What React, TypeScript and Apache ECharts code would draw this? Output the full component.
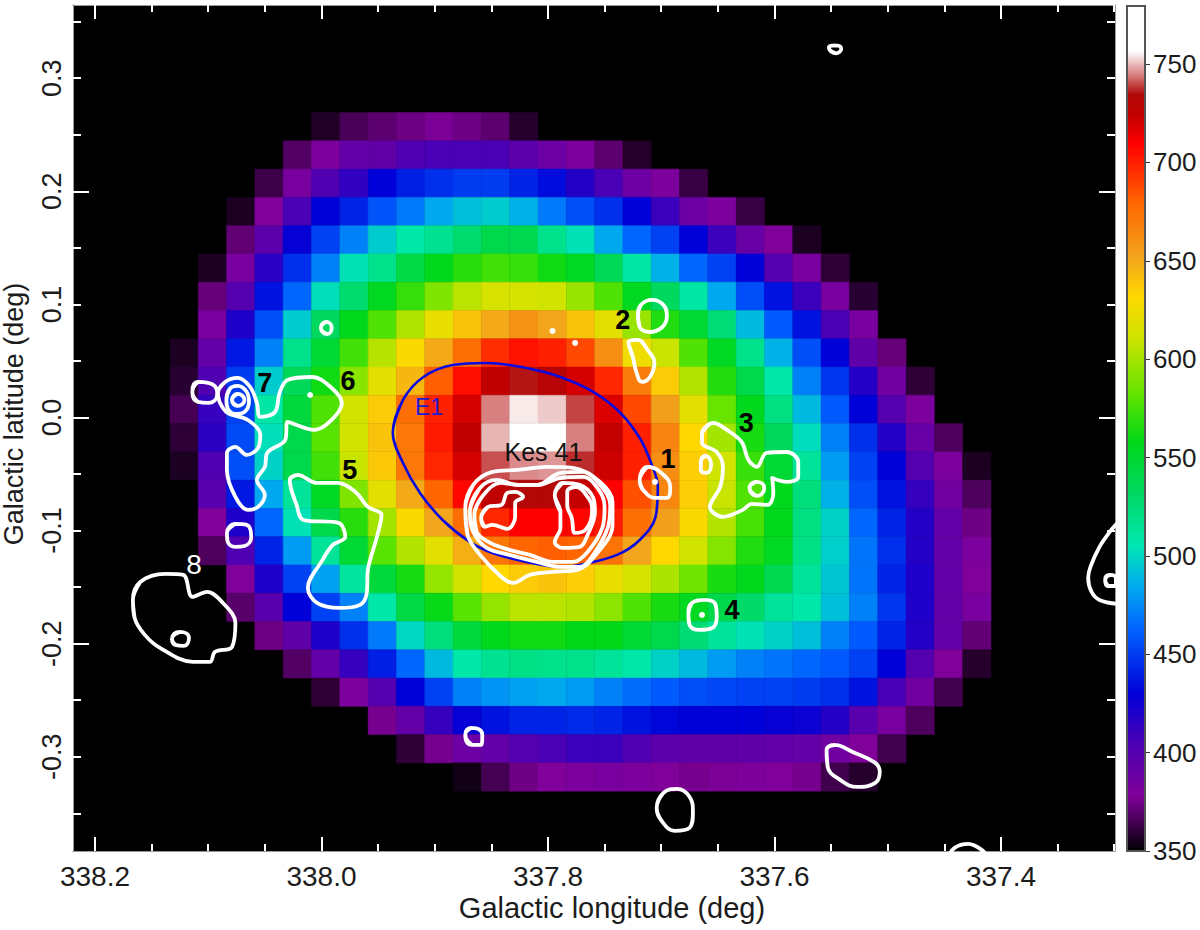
import React, { useEffect, useRef } from "react";
import * as echarts from "echarts";

type Pt = [number, number];

// ---- map cells (value per pixel of the map; each row starts at its first column) ----
const firstLongitude = 338.1213;
const firstLatitude = 0.2571;
const cellStep = 0.025;
const rowFirstColumns = [5, 4, 3, 2, 2, 1, 1, 1, 0, 0, 0, 0, 0, 1, 1, 1, 2, 2, 3, 4, 5, 7, 8, 10];
const row00 = [357, 366, 370, 374, 377, 374, 370, 358];
const row01 = [368, 380, 392, 393, 402, 405, 405, 405, 396, 388, 380, 370, 358];
const row02 = [363, 382, 402, 413, 430, 440, 446, 450, 450, 442, 434, 418, 405, 388, 380, 362];
const row03 = [356, 378, 405, 430, 442, 458, 470, 484, 492, 496, 487, 470, 456, 446, 430, 410, 388, 380, 362];
const row04 = [371, 396, 428, 452, 472, 496, 508, 516, 528, 540, 538, 518, 504, 484, 464, 452, 430, 410, 390, 378, 356];
const row05 = [356, 382, 416, 446, 472, 504, 518, 542, 556, 568, 574, 571, 562, 554, 536, 510, 487, 464, 452, 430, 400, 382, 360];
const row06 = [372, 400, 436, 464, 503, 528, 555, 571, 590, 606, 615, 614, 612, 597, 578, 555, 533, 510, 484, 456, 436, 410, 382, 359];
const row07 = [382, 420, 456, 496, 533, 556, 578, 603, 622, 640, 650, 660, 652, 640, 620, 597, 566, 548, 525, 490, 460, 436, 405, 382];
const row08 = [356, 392, 438, 472, 518, 548, 574, 605, 630, 650, 676, 696, 704, 700, 688, 662, 625, 610, 578, 554, 518, 487, 456, 430, 394, 372];
const row09 = [359, 402, 450, 496, 535, 562, 593, 620, 645, 682, 706, 725, 736, 730, 720, 698, 670, 637, 604, 567, 540, 508, 472, 448, 418, 385, 360];
const row10 = [365, 412, 452, 510, 545, 578, 612, 637, 676, 700, 720, 745, 755, 752, 740, 718, 688, 654, 620, 584, 556, 522, 490, 460, 430, 400, 380];
const row11 = [360, 415, 455, 503, 540, 580, 613, 640, 672, 702, 725, 750, 770, 757, 745, 724, 700, 666, 632, 600, 564, 534, 502, 472, 446, 418, 390, 367];
const row12 = [356, 402, 456, 498, 540, 574, 610, 638, 672, 698, 720, 741, 746, 747, 738, 722, 700, 662, 636, 612, 572, 548, 514, 480, 452, 430, 400, 380, 356];
const row13 = [398, 438, 484, 514, 553, 590, 620, 650, 680, 708, 726, 733, 733, 724, 710, 686, 665, 636, 610, 578, 556, 524, 487, 456, 436, 412, 385, 367];
const row14 = [378, 420, 464, 504, 540, 568, 600, 630, 652, 676, 698, 710, 710, 708, 702, 676, 654, 630, 604, 576, 556, 522, 498, 464, 442, 418, 392, 374];
const row15 = [367, 403, 442, 480, 514, 548, 580, 604, 620, 648, 672, 680, 682, 680, 674, 652, 632, 612, 592, 566, 554, 520, 497, 468, 446, 418, 392, 380];
const row16 = [378, 420, 452, 482, 512, 546, 564, 596, 612, 632, 637, 640, 636, 622, 614, 602, 586, 564, 556, 538, 514, 494, 468, 442, 420, 392, 378];
const row17 = [369, 398, 430, 452, 472, 508, 542, 560, 580, 596, 606, 606, 604, 594, 578, 564, 555, 540, 530, 514, 508, 492, 472, 448, 420, 392, 382];
const row18 = [374, 394, 420, 446, 470, 500, 524, 546, 556, 562, 562, 558, 558, 548, 540, 526, 514, 504, 498, 492, 472, 460, 442, 418, 392, 371];
const row19 = [368, 392, 412, 440, 464, 490, 508, 516, 520, 518, 518, 514, 508, 498, 490, 480, 472, 468, 464, 460, 452, 430, 400, 378, 358];
const row20 = [360, 380, 400, 430, 452, 472, 478, 482, 484, 480, 472, 466, 460, 456, 454, 452, 452, 450, 446, 436, 406, 385, 364];
const row21 = [376, 392, 412, 428, 436, 442, 442, 444, 442, 436, 432, 430, 430, 430, 428, 426, 418, 398, 382, 367];
const row22 = [360, 376, 388, 392, 400, 405, 410, 410, 402, 396, 394, 394, 394, 392, 392, 386, 378, 364];
const row23 = [354, 365, 374, 378, 380, 382, 380, 378, 376, 377, 379, 378, 376, 364, 358];
const cellRows = [row00, row01, row02, row03, row04, row05, row06, row07, row08, row09, row10, row11, row12, row13, row14, row15, row16, row17, row18, row19, row20, row21, row22, row23];

// ---- colour scale ----
const colorStopValues = [350, 378, 405, 430, 462, 484, 506, 533, 558, 582, 612, 632, 653, 680, 695, 710, 725, 735, 745, 757, 780];
const colorStopColors = ["#000000", "#80009a", "#4a00b4", "#0000d8", "#0060ff", "#00a8f0", "#00e8b0", "#00d860", "#00d818", "#60e400", "#d0e400", "#ffd800", "#f2a21c", "#ff6600", "#ff3000", "#ff0000", "#c00000", "#b00808", "#d88080", "#ffffff", "#ffffff"];
const colorbarTicks = [350, 400, 450, 500, 550, 600, 650, 700, 750];

// ---- axes ----
const lonMajorTicks = [338.2, 338.0, 337.8, 337.6, 337.4];
const lonMinorTicks = [338.2, 338.15, 338.1, 338.05, 338.0, 337.95, 337.9, 337.85, 337.8, 337.75, 337.7, 337.65, 337.6, 337.55, 337.5, 337.45, 337.4, 337.35, 337.3];
const latLabels = [0.3, 0.2, 0.1, 0, -0.1, -0.2, -0.3];
const latMajorTicks = [0.2, 0, -0.2];
const latMinorTicks = [0.35, 0.3, 0.25, 0.2, 0.15, 0.1, 0.05, 0, -0.05, -0.1, -0.15, -0.2, -0.25, -0.3, -0.35];

// ---- contours (longitude, latitude in deg) ----
const contourTop: Pt[] = [[337.552, 0.327], [337.547, 0.329], [337.541, 0.326], [337.546, 0.322]];
const contour2: Pt[] = [[337.7205, 0.0906], [337.718, 0.0995], [337.708, 0.1039], [337.698, 0.0995], [337.695, 0.0898], [337.699, 0.08], [337.71, 0.0756], [337.719, 0.08]];
const contour2b: Pt[] = [[337.729, 0.0668], [337.721, 0.0686], [337.712, 0.0597], [337.706, 0.0482], [337.71, 0.0358], [337.717, 0.0314], [337.722, 0.0403], [337.725, 0.0535]];
const contourSmallA: Pt[] = [[338.0005, 0.0792], [337.996, 0.0845], [337.991, 0.0792], [337.995, 0.0738]];
const contourLoop: Pt[] = [[338.114, 0.0226], [338.109, 0.0314], [338.1, 0.0306], [338.092, 0.0217], [338.1, 0.0129], [338.109, 0.0138]];
const contour76: Pt[] = [[338.0914, 0.0217], [338.085, 0.0314], [338.074, 0.035], [338.063, 0.027], [338.057, 0.0129], [338.054, 0.0005], [338.041, 0.0049], [338.037, 0.0217], [338.03, 0.0332], [338.008, 0.0358], [337.991, 0.0261], [337.982, 0.0129], [337.991, -0.0022], [338.006, -0.011], [338.03, -0.0039], [338.032, -0.0199], [338.048, -0.0314], [338.05, -0.0437], [338.057, -0.0552], [338.05, -0.0685], [338.056, -0.0791], [338.065, -0.0817], [338.076, -0.0702], [338.0835, -0.0464], [338.0835, -0.0314], [338.076, -0.026], [338.066, -0.0331], [338.056, -0.0269], [338.054, -0.0154], [338.065, -0.0022], [338.083, 0.004], [338.09, 0.0138]];
const contour7Ring: Pt[] = [[338.084, 0.0155], [338.081, 0.0252], [338.074, 0.0279], [338.066, 0.0226], [338.064, 0.0138], [338.068, 0.0049], [338.076, 0.0031], [338.083, 0.0084]];
const contour7Inner: Pt[] = [[338.079, 0.0155], [338.074, 0.0208], [338.068, 0.0155], [338.074, 0.0102]];
const contourBelow7: Pt[] = [[338.0835, -0.1021], [338.076, -0.0941], [338.066, -0.095], [338.062, -0.1056], [338.068, -0.1136], [338.076, -0.1144], [338.083, -0.1091]];
const contour5: Pt[] = [[338.028, -0.0552], [338.021, -0.0508], [338.004, -0.0579], [337.986, -0.0579], [337.97, -0.0658], [337.959, -0.0791], [337.947, -0.0862], [337.951, -0.1056], [337.959, -0.1348], [337.96, -0.1551], [337.966, -0.1657], [337.984, -0.1684], [338.004, -0.164], [338.012, -0.1507], [337.999, -0.1259], [337.99, -0.1127], [337.979, -0.1056], [337.985, -0.0932], [338.016, -0.0906], [338.022, -0.0773]];
const contour8: Pt[] = [[338.1665, -0.1613], [338.16, -0.1454], [338.138, -0.1383], [338.122, -0.1392], [338.114, -0.1586], [338.101, -0.1542], [338.087, -0.164], [338.076, -0.1816], [338.079, -0.2029], [338.094, -0.2073], [338.0985, -0.2161], [338.1135, -0.2161], [338.1426, -0.2037], [338.156, -0.1922], [338.165, -0.1772]];
const contour8Ring: Pt[] = [[338.132, -0.1958], [338.125, -0.1896], [338.117, -0.1949], [338.122, -0.202], [338.129, -0.2011]];
const contourRingLow: Pt[] = [[337.873, -0.2806], [337.868, -0.2745], [337.858, -0.2806], [337.859, -0.2895], [337.867, -0.2895]];
const contourBlobLow: Pt[] = [[337.704, -0.3452], [337.698, -0.3319], [337.686, -0.3284], [337.675, -0.3354], [337.672, -0.3487], [337.675, -0.3629], [337.688, -0.3655], [337.699, -0.3575]];
const contourBlobRight: Pt[] = [[337.554, -0.2939], [337.547, -0.2895], [337.531, -0.2957], [337.511, -0.3054], [337.507, -0.3133], [337.511, -0.3231], [337.527, -0.3266], [337.542, -0.3204], [337.553, -0.3089]];
const contourArcBottom: Pt[] = [[337.447, -0.3894], [337.441, -0.3805], [337.429, -0.377], [337.417, -0.3823], [337.41, -0.3911]];
const contourArcRight: Pt[] = [[337.297, -0.0932], [337.304, -0.1012], [337.313, -0.1144], [337.321, -0.1321], [337.323, -0.1419], [337.32, -0.1542], [337.313, -0.1613], [337.297, -0.1648]];
const contourRingRight: Pt[] = [[337.308, -0.1436], [337.304, -0.1392], [337.2985, -0.1419], [337.2985, -0.1489], [337.3055, -0.1489]];
const contour1: Pt[] = [[337.719, -0.0552], [337.712, -0.0437], [337.701, -0.0481], [337.692, -0.0614], [337.695, -0.0711], [337.705, -0.0711], [337.716, -0.0641]];
const contour3: Pt[] = [[337.654, -0.0048], [337.664, -0.0137], [337.664, -0.0225], [337.651, -0.0305], [337.6455, -0.0437], [337.648, -0.0614], [337.657, -0.0791], [337.6455, -0.0879], [337.628, -0.0817], [337.62, -0.0764], [337.606, -0.0773], [337.601, -0.0667], [337.602, -0.0535], [337.589, -0.057], [337.579, -0.0526], [337.579, -0.0393], [337.589, -0.0305], [337.607, -0.0314], [337.6155, -0.0437], [337.623, -0.0375], [337.629, -0.0216], [337.642, -0.011]];
const contour3RingA: Pt[] = [[337.665, -0.0393], [337.661, -0.034], [337.656, -0.042], [337.6605, -0.049], [337.665, -0.0464]];
const contour3RingB: Pt[] = [[337.622, -0.0623], [337.616, -0.057], [337.609, -0.0623], [337.6155, -0.0694]];
const contour4: Pt[] = [[337.676, -0.1737], [337.673, -0.164], [337.661, -0.1613], [337.652, -0.1657], [337.651, -0.1763], [337.655, -0.1861], [337.666, -0.1878], [337.675, -0.1834]];
const kesOuter: Pt[] = [[337.873, -0.08], [337.866, -0.0596], [337.849, -0.0481], [337.827, -0.0464], [337.801, -0.0437], [337.778, -0.0446], [337.754, -0.057], [337.743, -0.0747], [337.743, -0.095], [337.76, -0.1242], [337.774, -0.1348], [337.796, -0.1365], [337.816, -0.1392], [337.831, -0.1463], [337.841, -0.141], [337.86, -0.1215], [337.871, -0.1038]];
const kesMiddle: Pt[] = [[337.869, -0.0835], [337.86, -0.0623], [337.845, -0.0552], [337.827, -0.0596], [337.81, -0.0596], [337.789, -0.049], [337.769, -0.0481], [337.754, -0.0596], [337.745, -0.0773], [337.747, -0.0967], [337.76, -0.1215], [337.772, -0.1321], [337.789, -0.1321], [337.81, -0.1277], [337.834, -0.1215], [337.854, -0.1153], [337.866, -0.1012]];
const kesInner: Pt[] = [[337.865, -0.0862], [337.857, -0.0685], [337.842, -0.0579], [337.826, -0.0596], [337.809, -0.0596], [337.789, -0.0535], [337.769, -0.0526], [337.754, -0.0658], [337.75, -0.08], [337.752, -0.0977], [337.765, -0.1189], [337.778, -0.1277], [337.796, -0.1277], [337.816, -0.1215], [337.834, -0.1171], [337.851, -0.1109], [337.863, -0.1012]];
const kesLeftLobe: Pt[] = [[337.859, -0.0888], [337.853, -0.0791], [337.841, -0.0773], [337.836, -0.0667], [337.829, -0.0658], [337.822, -0.0702], [337.829, -0.0756], [337.829, -0.0879], [337.836, -0.0985], [337.849, -0.095], [337.856, -0.0967]];
const kesRightLobe: Pt[] = [[337.794, -0.0685], [337.787, -0.0579], [337.772, -0.0596], [337.76, -0.0711], [337.7585, -0.0835], [337.765, -0.1038], [337.772, -0.1144], [337.787, -0.1153], [337.794, -0.11], [337.789, -0.0977], [337.789, -0.0835]];
const kesRightCore: Pt[] = [[337.783, -0.0658], [337.776, -0.0614], [337.765, -0.0702], [337.761, -0.0817], [337.767, -0.0994], [337.776, -0.1021], [337.779, -0.0888], [337.783, -0.0773]];
const closedContours = [contourTop, contour2, contour2b, contourSmallA, contourLoop, contour76, contour7Ring, contour7Inner, contourBelow7, contour5, contour8, contour8Ring, contourRingLow, contourBlobLow, contourBlobRight, contourRingRight, contour1, contour3, contour3RingA, contour3RingB, contour4, kesOuter, kesMiddle, kesInner, kesLeftLobe, kesRightLobe, kesRightCore];
const openContours = [contourArcBottom, contourArcRight];
const contourDots: Pt[] = [[337.796, 0.0765], [337.776, 0.0659], [337.664, -0.1746], [337.7055, -0.057], [338.01, 0.0199]];

// ---- ellipse E1 ----
const ellipseE1: Pt[] = [[337.937, -0.0137], [337.928, 0.0155], [337.91, 0.0358], [337.884, 0.0464], [337.854, 0.0482], [337.819, 0.0438], [337.789, 0.0358], [337.76, 0.0226], [337.736, 0.004], [337.719, -0.0181], [337.71, -0.0375], [337.703, -0.0614], [337.705, -0.0879], [337.719, -0.1083], [337.739, -0.1215], [337.772, -0.1304], [337.789, -0.1321], [337.819, -0.1277], [337.849, -0.1198], [337.869, -0.11], [337.893, -0.0906], [337.913, -0.0667], [337.928, -0.0402]];

// ---- annotations ----
const sourceNames = ["1", "2", "3", "4", "5", "6", "7"];
const sourceLons = [337.694, 337.734, 337.625, 337.6375, 337.975, 337.9766, 338.05];
const sourceLats = [-0.0367, 0.0862, -0.0048, -0.1701, -0.0464, 0.0323, 0.0306];
const plainNames = ["8", "E1", "Kes 41"];
const plainLons = [338.1126, 337.905, 337.804];
const plainLats = [-0.1304, 0.0093, -0.0305];
const plainColors = ["#ffffff", "#1a1ad8", "#111111"];
const plainSizes = [28, 23, 25];

const FONT = "'Liberation Sans', Arial, sans-serif";
const TEXT = "#1c1c1c";
const LON_MAX = 338.2194;
const LON_MIN = 337.2993;
const LAT_MAX = 0.3647;
const LAT_MIN = -0.3833;

function colorOf(v: number): string {
  for (let i = 1; i < colorStopValues.length; i++) {
    if (v <= colorStopValues[i]) {
      const t = (v - colorStopValues[i - 1]) / (colorStopValues[i] - colorStopValues[i - 1]);
      return echarts.color.lerp(t, [colorStopColors[i - 1], colorStopColors[i]]) as string;
    }
  }
  return colorStopColors[colorStopColors.length - 1];
}

function buildCells() {
  const cells: number[][] = [];
  cellRows.forEach((row, r) => {
    row.forEach((v, i) => {
      const col = rowFirstColumns[r] + i;
      cells.push([firstLongitude - cellStep * col, firstLatitude - cellStep * r, v]);
    });
  });
  return cells;
}

// a closed contour overlaps itself by one segment at each end, so the seam keeps its tangent
function wrapClosed(c: Pt[]): Pt[] {
  return [c[c.length - 1], ...c, c[0], c[1]];
}

function smoothFor(count: number): number {
  if (count <= 6) return 0.55;
  if (count <= 9) return 0.45;
  return 0.36;
}

function lonAxis(grid: number, position: string, ticks: number[], len: number, labels: boolean) {
  return {
    type: "value", gridIndex: grid, position, inverse: true, min: LON_MIN, max: LON_MAX, scale: true,
    splitLine: { show: false },
    axisLine: { show: true, onZero: false, lineStyle: { color: "#9a9a9a", width: 1 } },
    axisTick: { show: true, inside: true, length: len, customValues: ticks, lineStyle: { color: "#ffffff", width: 2 } },
    axisLabel: labels
      ? { show: true, customValues: ticks, margin: 11, fontSize: 28, fontFamily: FONT, color: TEXT, formatter: (v: number) => v.toFixed(1) }
      : { show: false },
  };
}

function latAxis(grid: number, position: string, ticks: number[], len: number, labelValues: number[] | null) {
  return {
    type: "value", gridIndex: grid, position, min: LAT_MIN, max: LAT_MAX, scale: true,
    splitLine: { show: false },
    axisLine: { show: true, onZero: false, lineStyle: { color: "#9a9a9a", width: 1 } },
    axisTick: { show: true, inside: true, length: len, customValues: ticks, lineStyle: { color: "#ffffff", width: 2 } },
    axisLabel: labelValues
      ? { show: true, customValues: labelValues, rotate: 90, margin: 8, fontSize: 27, fontFamily: FONT, color: TEXT, formatter: (v: number) => v.toFixed(1) }
      : { show: false },
  };
}

export default function App() {
  const ref = useRef<HTMLDivElement>(null);
  useEffect(() => {
    document.body.style.margin = "0";
    const chart = echarts.init(ref.current!, undefined, { renderer: "svg" });
    const half = cellStep / 2;
    const gridRect = { left: 73, top: 5, width: 1042, height: 846 };

    const contourLine = (pts: Pt[], count: number) => ({
      type: "line", xAxisIndex: 0, yAxisIndex: 0, data: pts, smooth: smoothFor(count), showSymbol: false, symbol: "none", silent: true, clip: true, z: 4,
      lineStyle: { color: "#ffffff", width: 3.8, cap: "round", join: "round" },
    });
    const contourSeries = [
      ...closedContours.map((c) => contourLine(wrapClosed(c), c.length)),
      ...openContours.map((c) => contourLine(c, 12)),
    ];

    chart.setOption({
      animation: false,
      backgroundColor: "#ffffff",
      tooltip: { show: false },
      grid: [
        { ...gridRect, show: true, backgroundColor: "#000000", borderWidth: 0, containLabel: false },
        { ...gridRect, show: false, containLabel: false },
        { left: 1126, top: 5, width: 20, height: 846, show: false, containLabel: false },
      ],
      xAxis: [
        lonAxis(0, "bottom", lonMajorTicks, 14, true),
        lonAxis(0, "top", lonMajorTicks, 14, false),
        lonAxis(1, "bottom", lonMinorTicks, 7, false),
        lonAxis(1, "top", lonMinorTicks, 7, false),
        { type: "category", gridIndex: 2, data: ["scale"], show: false },
      ],
      yAxis: [
        latAxis(0, "left", latMajorTicks, 16, latLabels),
        latAxis(0, "right", latMajorTicks, 16, null),
        latAxis(1, "left", latMinorTicks, 8, null),
        latAxis(1, "right", latMinorTicks, 8, null),
        {
          type: "value", gridIndex: 2, position: "right", min: 350, max: 780, scale: true,
          splitLine: { show: false },
          axisLine: { show: false },
          axisTick: { show: true, length: 4, customValues: colorbarTicks, lineStyle: { color: "#333333", width: 1 } },
          axisLabel: { show: true, customValues: colorbarTicks, margin: 7, fontSize: 26, fontFamily: FONT, color: TEXT },
        },
      ],
      series: [
        {
          type: "custom", xAxisIndex: 0, yAxisIndex: 0, data: buildCells(), clip: true, silent: true, z: 2,
          encode: { x: 0, y: 1 },
          renderItem: (_p: any, api: any) => {
            const lon = api.value(0);
            const lat = api.value(1);
            const a = api.coord([lon + half, lat + half]);
            const b = api.coord([lon - half, lat - half]);
            const c = colorOf(api.value(2));
            return {
              type: "rect",
              shape: { x: a[0], y: a[1], width: b[0] - a[0], height: b[1] - a[1] },
              style: { fill: c, stroke: c, lineWidth: 0.5 },
            };
          },
        },
        {
          type: "line", xAxisIndex: 0, yAxisIndex: 0, data: wrapClosed(ellipseE1), smooth: 0.36, showSymbol: false, symbol: "none", silent: true, z: 3,
          lineStyle: { color: "#0a0ae0", width: 2.6 },
        },
        ...contourSeries,
        {
          type: "scatter", xAxisIndex: 0, yAxisIndex: 0, data: contourDots, symbolSize: 6, silent: true, z: 4,
          itemStyle: { color: "#ffffff", opacity: 1 },
        },
        {
          type: "scatter", xAxisIndex: 0, yAxisIndex: 0, symbolSize: 1, silent: true, z: 6,
          itemStyle: { color: "transparent", opacity: 1 },
          data: sourceNames.map((name, i) => ({
            value: [sourceLons[i], sourceLats[i]],
            label: { show: true, position: "inside", formatter: name, fontSize: 27, fontWeight: "bold", fontFamily: FONT, color: "#000000" },
          })),
        },
        {
          type: "scatter", xAxisIndex: 0, yAxisIndex: 0, symbolSize: 1, silent: true, z: 6,
          itemStyle: { color: "transparent", opacity: 1 },
          data: plainNames.map((name, i) => ({
            value: [plainLons[i], plainLats[i]],
            label: { show: true, position: "inside", formatter: name, fontSize: plainSizes[i], fontFamily: FONT, color: plainColors[i] },
          })),
        },
        {
          type: "bar", xAxisIndex: 4, yAxisIndex: 4, data: [780], barWidth: "100%", silent: true,
          itemStyle: {
            borderColor: "#555555",
            borderWidth: 2,
            color: new echarts.graphic.LinearGradient(0, 1, 0, 0,
              colorStopValues.map((v, i) => ({ offset: (v - 350) / 430, color: colorStopColors[i] }))),
          },
        },
      ],
      graphic: [
        { type: "text", x: 612, y: 908, style: { text: "Galactic longitude (deg)", fontSize: 29, fontFamily: FONT, fill: TEXT, align: "center", verticalAlign: "middle" } },
        { type: "text", x: 14, y: 414, rotation: Math.PI / 2, style: { text: "Galactic latitude (deg)", fontSize: 27, fontFamily: FONT, fill: TEXT, align: "center", verticalAlign: "middle" } },
      ],
    });
    return () => chart.dispose();
  }, []);
  return <div ref={ref} style={{ position: "absolute", left: 0, top: 0, width: 1200, height: 930 }} />;
}
